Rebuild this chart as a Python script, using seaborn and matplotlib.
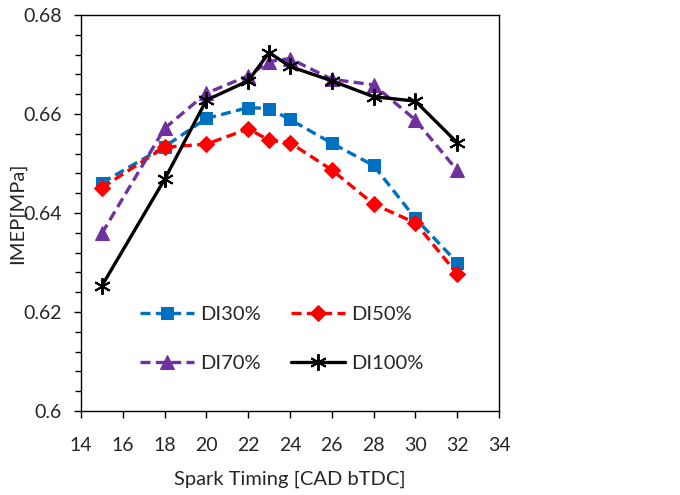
import matplotlib
matplotlib.use("Agg")
import matplotlib.pyplot as plt
import seaborn as sns
import pandas as pd
from matplotlib.ticker import MultipleLocator, FuncFormatter

spark = [15, 18, 20, 22, 23, 24, 26, 28, 30, 32]
di30 = [0.6461, 0.6534, 0.6591, 0.6613, 0.6611, 0.6589, 0.6541, 0.6496, 0.6389, 0.6300]
di50 = [0.6451, 0.6533, 0.6539, 0.6570, 0.6547, 0.6542, 0.6487, 0.6418, 0.6380, 0.6277]
di70 = [0.6359, 0.6571, 0.6642, 0.6677, 0.6706, 0.6712, 0.6670, 0.6659, 0.6588, 0.6486]
di100 = [0.6253, 0.6468, 0.6628, 0.6667, 0.6724, 0.6696, 0.6667, 0.6635, 0.6626, 0.6542]
labels = ["DI30%", "DI50%", "DI70%", "DI100%"]

sns.set_theme(style="white")
plt.rcParams['font.family'] = ['Lato', 'DejaVu Sans']

fig = plt.figure(figsize=(6.8, 4.95), dpi=100)
ax = fig.add_axes([81/680, 84/495, 418/680, 396/495])

styles = [
    dict(color="#0070C0", marker="s", linestyle=(0, (3, 1.6)), markersize=8.5),
    dict(color="#FF0000", marker="D", linestyle=(0, (3, 1.6)), markersize=8),
    dict(color="#7030A0", marker="^", linestyle=(0, (3, 1.6)), markersize=10),
    dict(color="black", marker=(6, 2, 0), linestyle="-", markersize=12, markeredgewidth=1.4),
]
for lab, vals, st in zip(labels, [di30, di50, di70, di100], styles):
    df = pd.DataFrame({"x": spark, "y": vals})
    ls = st.pop("linestyle")
    sns.lineplot(data=df, x="x", y="y", ax=ax, label=lab, linewidth=2.4,
                 markeredgecolor=st["color"], linestyle=ls, **st)

ax.set_xlim(14, 34)
ax.set_ylim(0.6, 0.68)
ax.xaxis.set_major_locator(MultipleLocator(2))
ax.yaxis.set_major_locator(MultipleLocator(0.02))
ax.yaxis.set_minor_locator(MultipleLocator(0.004))
ax.yaxis.set_major_formatter(FuncFormatter(lambda v, p: f"{v:.2f}".rstrip("0").rstrip(".")))
ax.tick_params(axis="both", which="major", direction="out", length=5, width=1, color="black",
               labelsize=14, bottom=True, left=True)
ax.tick_params(axis="y", which="minor", direction="out", length=4, width=1, color="black", left=True)
ax.tick_params(axis="x", pad=14)
ax.tick_params(axis="y", pad=9)
for s in ax.spines.values():
    s.set_color("black")
    s.set_linewidth(1)
ax.set_xlabel("Spark Timing [CAD bTDC]", fontsize=14.5, labelpad=12)
ax.set_ylabel("IMEP[MPa]", fontsize=14.5)
ax.yaxis.set_label_coords(-0.132, 0.5)

h, l = ax.get_legend_handles_labels()
order = [0, 2, 1, 3]
ax.legend([h[i] for i in order], [l[i] for i in order], ncol=2, loc="center",
          bbox_to_anchor=(0.48, 0.182), frameon=False, fontsize=14.5,
          handlelength=2.7, labelspacing=1.55, columnspacing=1.5, handletextpad=0.3)

fig.savefig("out.png", dpi=100)
